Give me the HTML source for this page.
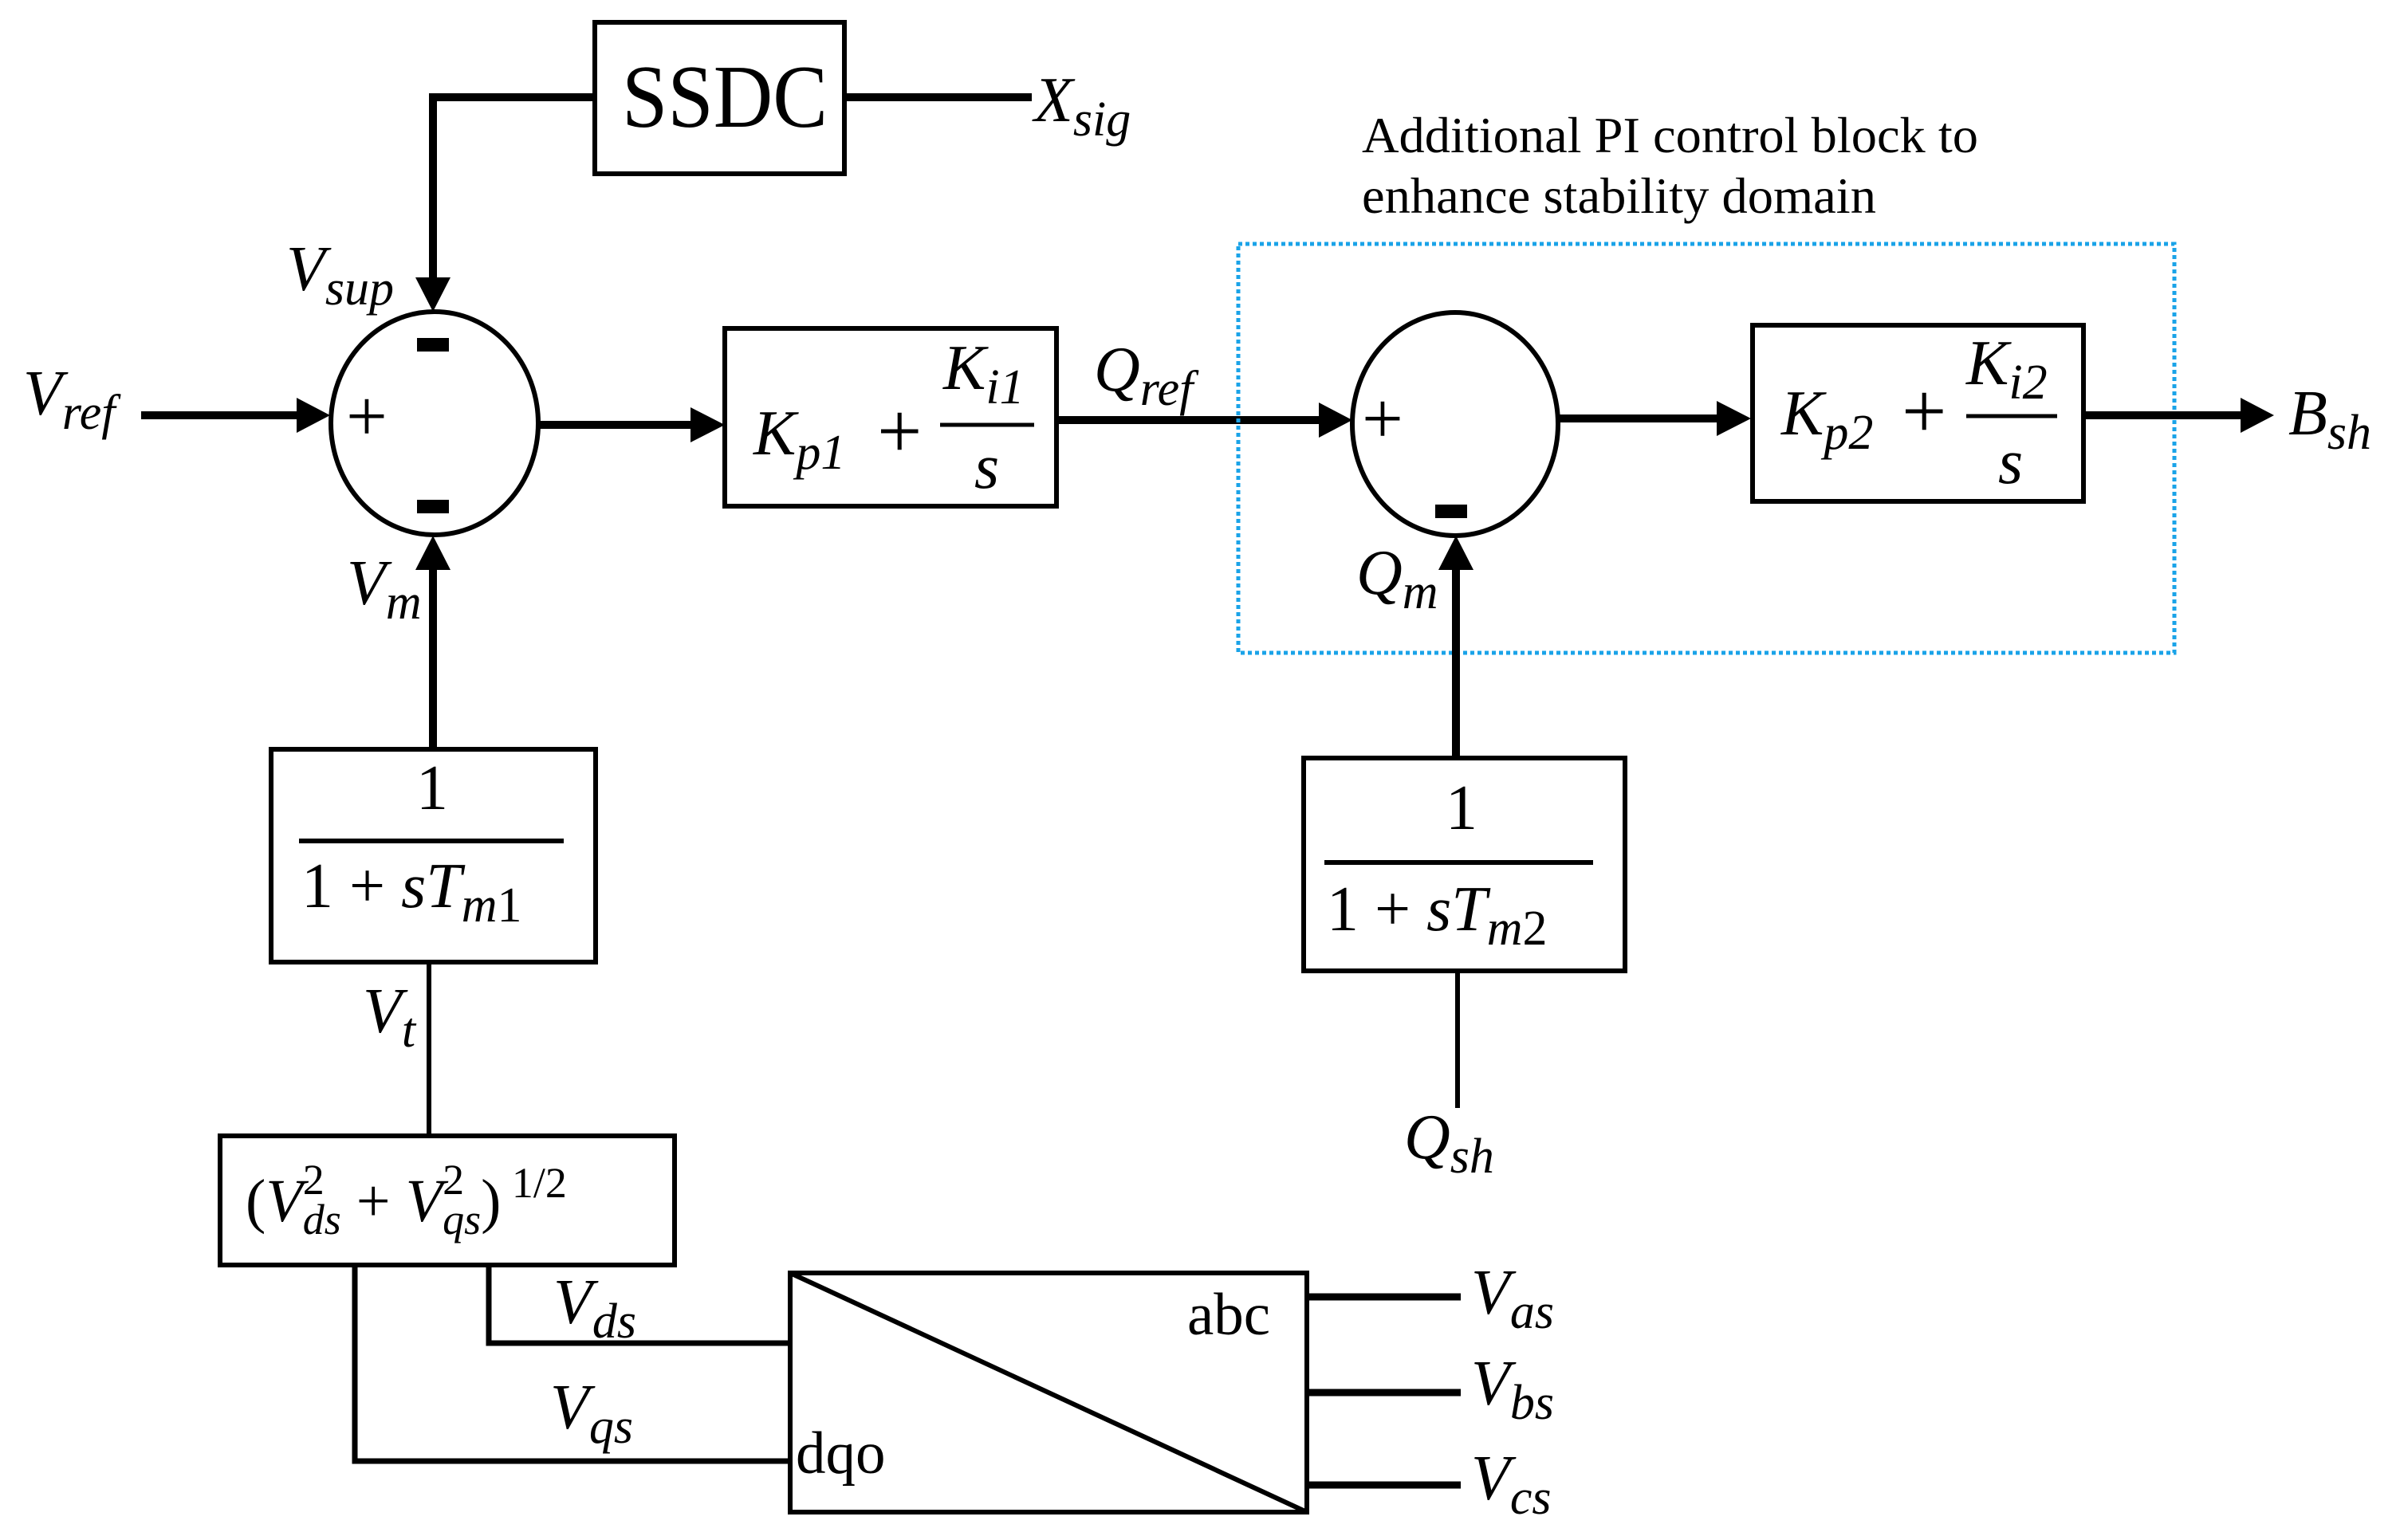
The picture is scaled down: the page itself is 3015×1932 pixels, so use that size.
<!DOCTYPE html>
<html><head><meta charset="utf-8"><style>
html,body{margin:0;padding:0;background:#fff}
svg{display:block}
text{font-family:"Liberation Serif",serif;fill:#000}
.m{font-style:italic;font-size:80px}
.r{font-size:80px}
</style></head><body>
<svg width="3015" height="1932" viewBox="0 0 3015 1932" xmlns="http://www.w3.org/2000/svg">
<g fill="none" stroke="#000">
<rect x="746" y="28" width="313" height="190" stroke-width="6"/>
<polyline points="746,122 543,122 543,350" stroke-width="10"/>
<line x1="1059" y1="122" x2="1294" y2="122" stroke-width="10"/>
<ellipse cx="545" cy="531" rx="130" ry="140" stroke-width="6"/>
<line x1="177" y1="521" x2="375" y2="521" stroke-width="10"/>
<line x1="675" y1="533" x2="870" y2="533" stroke-width="10"/>
<line x1="543" y1="940" x2="543" y2="712" stroke-width="10"/>
<rect x="909" y="412" width="416" height="223" stroke-width="6"/>
<line x1="1325" y1="527" x2="1656" y2="527" stroke-width="10"/>
<rect x="1553" y="306" width="1174" height="513" stroke="#1aa3e8" stroke-width="5" stroke-dasharray="5,4"/>
<ellipse cx="1825" cy="532" rx="129" ry="140" stroke-width="6"/>
<line x1="1954" y1="525" x2="2155" y2="525" stroke-width="10"/>
<rect x="2198" y="408" width="415" height="221" stroke-width="6"/>
<line x1="2613" y1="521" x2="2812" y2="521" stroke-width="10"/>
<line x1="1826" y1="951" x2="1826" y2="712" stroke-width="10"/>
<rect x="340" y="940" width="407" height="267" stroke-width="6"/>
<line x1="375" y1="1055" x2="707" y2="1055" stroke-width="6"/>
<line x1="538" y1="1207" x2="538" y2="1425" stroke-width="6"/>
<rect x="276" y="1425" width="570" height="162" stroke-width="6"/>
<polyline points="613,1587 613,1685 991,1685" stroke-width="7"/>
<polyline points="445,1587 445,1833 991,1833" stroke-width="7"/>
<rect x="991" y="1597" width="648" height="300" stroke-width="6"/>
<line x1="991" y1="1597" x2="1639" y2="1897" stroke-width="6"/>
<line x1="1639" y1="1627" x2="1832" y2="1627" stroke-width="9"/>
<line x1="1639" y1="1747" x2="1832" y2="1747" stroke-width="9"/>
<line x1="1639" y1="1863" x2="1832" y2="1863" stroke-width="9"/>
<rect x="1635" y="951" width="403" height="267" stroke-width="6"/>
<line x1="1661" y1="1082" x2="1998" y2="1082" stroke-width="6"/>
<line x1="1828" y1="1218" x2="1828" y2="1390" stroke-width="6"/>
<line x1="1179" y1="533" x2="1297" y2="533" stroke-width="5"/>
<line x1="2466" y1="522" x2="2580" y2="522" stroke-width="5"/>
</g>
<g fill="#000">
<polygon points="521,348 565,348 543,391"/>
<polygon points="372,499 372,543 414,521"/>
<polygon points="866,511 866,555 909,533"/>
<polygon points="521,715 565,715 543,672"/>
<polygon points="1654,505 1654,549 1696,527"/>
<polygon points="2153,503 2153,547 2196,525"/>
<polygon points="2810,499 2810,543 2852,521"/>
<polygon points="1804,715 1848,715 1826,672"/>
<rect x="523" y="424" width="40" height="17"/>
<rect x="523" y="627" width="40" height="17"/>
<rect x="1800" y="633" width="40" height="17"/>
</g>
<text x="780" y="159" font-size="112" textLength="258" lengthAdjust="spacingAndGlyphs">SSDC</text>
<text class="m" x="1297" y="152">X<tspan font-size="62" dy="18">sig</tspan></text>
<text class="m" x="359" y="364">V<tspan font-size="62" dy="18">sup</tspan></text>
<text class="m" x="29" y="520">V<tspan font-size="62" dy="18">ref</tspan></text>
<text class="m" x="435" y="758">V<tspan font-size="62" dy="18">m</tspan></text>
<text x="434" y="553" font-size="92">+</text>
<text x="1708" y="556" font-size="92">+</text>
<text class="m" x="945" y="570">K<tspan font-size="62" dy="18">p1</tspan></text>
<text x="1100" y="574" font-size="100">+</text>
<text class="m" x="1183" y="488">K<tspan font-size="62" dy="18">i1</tspan></text>
<text class="m" x="1222" y="612">s</text>
<text class="m" x="1372" y="490">Q<tspan font-size="62" dy="18">ref</tspan></text>
<text x="1708" y="191" font-size="63" textLength="773" lengthAdjust="spacingAndGlyphs">Additional PI control block to</text>
<text x="1708" y="267" font-size="63" textLength="645" lengthAdjust="spacingAndGlyphs">enhance stability domain</text>
<text class="m" x="2234" y="545">K<tspan font-size="62" dy="18">p2</tspan></text>
<text x="2385" y="549" font-size="100">+</text>
<text class="m" x="2466" y="482">K<tspan font-size="62" dy="18">i2</tspan></text>
<text class="m" x="2506" y="606">s</text>
<text class="m" x="2870" y="545">B<tspan font-size="62" dy="18">sh</tspan></text>
<text class="m" x="1701" y="745">Q<tspan font-size="62" dy="18">m</tspan></text>
<text class="r" x="522" y="1015">1</text>
<text x="378" y="1138" font-size="80">1 + <tspan font-style="italic">sT</tspan><tspan font-style="italic" font-size="62" dy="18">m</tspan><tspan font-size="62">1</tspan></text>
<text class="r" x="1813" y="1040">1</text>
<text x="1664" y="1167" font-size="80">1 + <tspan font-style="italic">sT</tspan><tspan font-style="italic" font-size="62" dy="18">m</tspan><tspan font-size="62">2</tspan></text>
<text class="m" x="455" y="1295">V<tspan font-size="62" dy="18">t</tspan></text>
<text x="308" y="1532" font-size="76">(<tspan font-style="italic">V</tspan><tspan font-size="54" dy="-34">2</tspan><tspan font-style="italic" font-size="54" dx="-27" dy="50">ds</tspan><tspan dy="-16"> + </tspan><tspan font-style="italic">V</tspan><tspan font-size="54" dy="-34">2</tspan><tspan font-style="italic" font-size="54" dx="-27" dy="50">qs</tspan><tspan dy="-16">)</tspan><tspan font-size="54" dy="-30"> 1/2</tspan></text>
<text class="m" x="694" y="1660">V<tspan font-size="62" dy="18">ds</tspan></text>
<text class="m" x="690" y="1792">V<tspan font-size="62" dy="18">qs</tspan></text>
<text x="1489" y="1674" font-size="75">abc</text>
<text x="998" y="1848" font-size="75">dqo</text>
<text class="m" x="1845" y="1648">V<tspan font-size="62" dy="18">as</tspan></text>
<text class="m" x="1845" y="1762">V<tspan font-size="62" dy="18">bs</tspan></text>
<text class="m" x="1845" y="1881">V<tspan font-size="62" dy="18">cs</tspan></text>
<text class="m" x="1761" y="1453">Q<tspan font-size="62" dy="18">sh</tspan></text>
</svg>
</body></html>
